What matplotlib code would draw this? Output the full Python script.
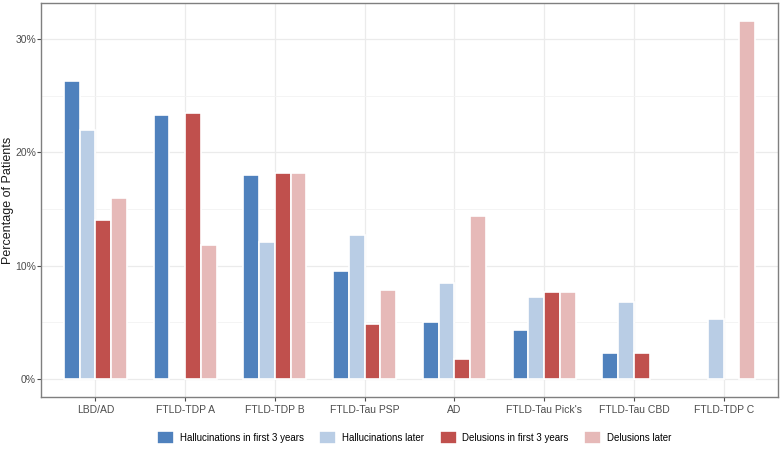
import numpy as np
import matplotlib
matplotlib.use("Agg")
import matplotlib.pyplot as plt
from matplotlib.ticker import FuncFormatter, MultipleLocator

plt.rcParams['font.family'] = ['Liberation Sans', 'DejaVu Sans']

categories = ["LBD/AD", "FTLD-TDP A", "FTLD-TDP B", "FTLD-Tau PSP", "AD",
              "FTLD-Tau Pick's", "FTLD-Tau CBD", "FTLD-TDP C"]
series = ["Hallucinations in first 3 years", "Hallucinations later",
          "Delusions in first 3 years", "Delusions later"]
hall_early = [26.3, 23.3, 18.0, 9.5, 5.0, 4.3, 2.3, 0.0]
hall_later = [22.0, 0.0, 12.1, 12.7, 8.5, 7.2, 6.8, 5.3]
del_early = [14.0, 23.5, 18.2, 4.85, 1.8, 7.7, 2.3, 0.0]
del_later = [16.0, 11.8, 18.2, 7.85, 14.4, 7.7, 0.0, 31.6]
colors = ["#4F81BD", "#B9CDE5", "#C0504D", "#E6B9B8"]

values = [hall_early, hall_later, del_early, del_later]

fig = plt.figure(figsize=(7.8, 4.49), dpi=100)
ax = fig.add_axes([0.0532, 0.1158, 0.9436, 0.8775])

x = np.arange(len(categories))
slot = 0.175
for i, (vals, name, col) in enumerate(zip(values, series, colors)):
    offs = (i - 1.5) * slot
    vals = np.array(vals, dtype=float)
    keep = vals > 0
    ax.bar(x[keep] + offs, vals[keep], width=slot, color=col, edgecolor="white",
           linewidth=1.2, label=name, zorder=3)

ax.set_xlim(-0.6, len(categories) - 0.4)
ax.set_ylim(-1.58, 33.18)
ax.set_xticks(x)
ax.set_xticklabels(categories)
ax.yaxis.set_major_locator(MultipleLocator(10))
ax.yaxis.set_minor_locator(MultipleLocator(5))
ax.yaxis.set_major_formatter(FuncFormatter(lambda v, p: "%d%%" % v))

ax.grid(which="major", color="#EBEBEB", linewidth=0.9, zorder=0)
ax.grid(which="minor", axis="y", color="#F3F3F3", linewidth=0.6, zorder=0)
ax.tick_params(which="minor", length=0)
ax.tick_params(which="major", length=3, color="#4D4D4D", labelsize=7.5,
               labelcolor="#4D4D4D", pad=3)
ax.tick_params(axis="y", pad=1)
for sp in ax.spines.values():
    sp.set_color("#7F7F7F")
    sp.set_linewidth(1.0)

ax.set_ylabel("Percentage of Patients", fontsize=9, color="#1A1A1A")
ax.yaxis.set_label_coords(-0.037, 0.5)

fig.legend(loc="center", bbox_to_anchor=(0.531, 0.025), ncol=4, frameon=False,
           fontsize=7, handlelength=1.75, handleheight=1.75, columnspacing=1.6,
           handletextpad=0.6)

fig.savefig("out.png", dpi=100)
